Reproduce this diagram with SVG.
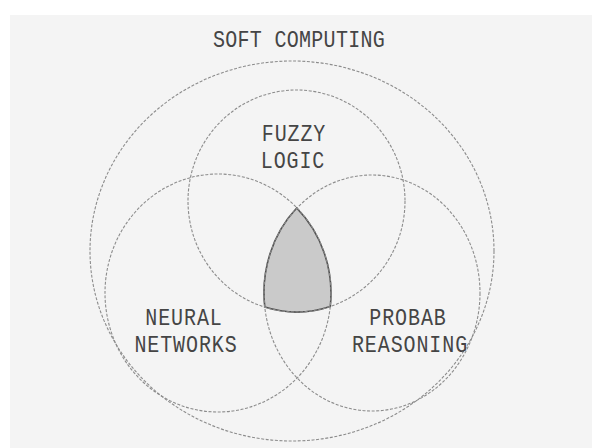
<svg xmlns="http://www.w3.org/2000/svg" width="592" height="448" viewBox="0 0 592 448">
<style>
.c{fill:none;stroke:#8c8c8c;stroke-width:1.1;stroke-dasharray:3 1.6}
.t{font-family:"Liberation Mono","Courier New",monospace;font-size:20px;fill:#454545;text-anchor:middle;letter-spacing:0.9px}
</style>
<rect x="0" y="0" width="592" height="448" fill="#ffffff"/>
<rect x="10" y="15" width="582" height="433" fill="#f4f4f4"/>
<g id="soft-computing">
<ellipse class="c" cx="292" cy="251" rx="202" ry="190"/>
<text class="t" transform="translate(299,47) scale(1,1.15)" style="letter-spacing:0.3px">SOFT COMPUTING</text>
</g>
<g id="core">
<path d="M296.7,208 A113,119 0 0 1 330.3,306.5 A108.5,111 0 0 1 264.8,307.1 A108,118 0 0 1 296.7,208 Z" fill="#cacaca" stroke="#505050" stroke-width="1.6"/>
</g>
<g id="fuzzy-logic">
<ellipse class="c" cx="296.5" cy="201" rx="108.5" ry="111"/>
<text class="t" transform="translate(294,141) scale(1,1.2)">FUZZY</text>
<text class="t" transform="translate(293,168) scale(1,1.2)">LOGIC</text>
</g>
<g id="neural-networks">
<ellipse class="c" cx="218" cy="293" rx="113" ry="119"/>
<text class="t" transform="translate(184,325) scale(1,1.2)">NEURAL</text>
<text class="t" transform="translate(186,352) scale(1,1.2)">NETWORKS</text>
</g>
<g id="probab-reasoning">
<ellipse class="c" cx="372" cy="293" rx="108" ry="118"/>
<text class="t" transform="translate(408,325) scale(1,1.2)">PROBAB</text>
<text class="t" transform="translate(410,352) scale(1,1.2)">REASONING</text>
</g>
<g id="connectors"></g>
</svg>
